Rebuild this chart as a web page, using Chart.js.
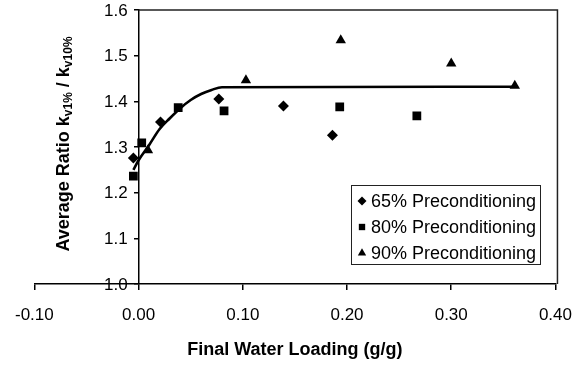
<!DOCTYPE html>
<html><head><meta charset="utf-8">
<script src="https://cdn.jsdelivr.net/npm/chart.js@4/dist/chart.umd.min.js"></script>
<style>html,body{margin:0;padding:0;background:#fff}#wrap{width:587px;height:367px;position:relative}</style>
</head><body><div id="wrap"><canvas id="c"></canvas></div>
<script>
// ---- data ----
const seriesNames = ['65% Preconditioning', '80% Preconditioning', '90% Preconditioning'];
const x65 = [-0.005, 0.021, 0.077, 0.139, 0.186];
const y65 = [1.276, 1.355, 1.405, 1.390, 1.326];
const x80 = [-0.005, 0.003, 0.038, 0.082, 0.193, 0.267];
const y80 = [1.236, 1.309, 1.386, 1.379, 1.388, 1.368];
const x90 = [0.009, 0.103, 0.194, 0.300, 0.361];
const y90 = [1.293, 1.446, 1.534, 1.483, 1.434];
const fitX = [-0.005, 0.0, 0.01, 0.02, 0.03, 0.04, 0.05, 0.06, 0.07, 0.08, 0.36];
const fitY = [1.25, 1.271, 1.304, 1.339, 1.363, 1.385, 1.403, 1.416, 1.425, 1.431, 1.432];
const xTicks = [-0.10, 0.00, 0.10, 0.20, 0.30, 0.40];
const yTicks = [1.0, 1.1, 1.2, 1.3, 1.4, 1.5, 1.6];
const xTitle = 'Final Water Loading (g/g)';
const yTitleParts = [['Average Ratio k', false], ['v1%', true], [' / k', false], ['v10%', true]];

const FONT = '"Liberation Sans", Arial, Helvetica, sans-serif';
const pts = (xs, ys) => xs.map((x, i) => ({x: x, y: ys[i]}));
const markerStyles = ['rectRot', 'rect', 'triangle'];
const markerRadius = [5.5, 6.2, 6];

const scatterSet = (i, xs, ys) => ({
  type: 'scatter', label: seriesNames[i], data: pts(xs, ys),
  pointStyle: markerStyles[i], pointRadius: markerRadius[i], pointHoverRadius: markerRadius[i],
  backgroundColor: '#000', borderColor: '#000', borderWidth: 0, showLine: false, order: 1
});

const framePlugin = {
  id: 'frame',
  beforeDatasetsDraw(chart) {
    const {ctx, scales: {x, y}} = chart;
    const x0 = x.getPixelForValue(0), x1 = x.getPixelForValue(0.4);
    const yt = y.getPixelForValue(1.6), yb = y.getPixelForValue(1.0);
    ctx.save();
    ctx.strokeStyle = '#222'; ctx.lineWidth = 1.5;
    ctx.beginPath();
    ctx.moveTo(x0, yt); ctx.lineTo(x1 + 2, yt); ctx.lineTo(x1 + 2, yb);
    ctx.stroke();
    ctx.restore();
  }
};

// y tick labels: the y axis crosses at x = 0, labels sit to its left
const yLabelPlugin = {
  id: 'ylabels',
  afterDraw(chart) {
    const {ctx, scales: {x, y}} = chart;
    const ax = x.getPixelForValue(0);
    ctx.save();
    ctx.font = '17px ' + FONT;
    ctx.fillStyle = '#000';
    ctx.textAlign = 'right'; ctx.textBaseline = 'middle';
    yTicks.forEach(v => ctx.fillText(v.toFixed(1), ax - 11, y.getPixelForValue(v) + 1));
    ctx.restore();
  }
};

const yTitlePlugin = {
  id: 'ytitle',
  afterDraw(chart) {
    const ctx = chart.ctx;
    const mainF = 'bold 18px ' + FONT, subF = 'bold 12px ' + FONT;
    ctx.save();
    let total = 0;
    yTitleParts.forEach(([t, sub]) => { ctx.font = sub ? subF : mainF; total += ctx.measureText(t).width; });
    const cx = 69, cy = 144;
    ctx.translate(cx, cy);
    ctx.rotate(-Math.PI / 2);
    ctx.fillStyle = '#000';
    ctx.textBaseline = 'alphabetic';
    ctx.textAlign = 'left';
    let pos = -total / 2;
    yTitleParts.forEach(([t, sub]) => {
      ctx.font = sub ? subF : mainF;
      ctx.fillText(t, pos, sub ? 3 : 0);
      pos += ctx.measureText(t).width;
    });
    ctx.restore();
  }
};

const legendPlugin = {
  id: 'boxLegend',
  afterDraw(chart) {
    const ctx = chart.ctx;
    const bx = 351, by = 185, bw = 189, bh = 79;
    ctx.save();
    ctx.fillStyle = '#fff';
    ctx.fillRect(bx, by, bw, bh);
    ctx.strokeStyle = '#222'; ctx.lineWidth = 1;
    ctx.strokeRect(bx + 0.5, by + 0.5, bw, bh);
    ctx.font = '18px ' + FONT;
    ctx.textBaseline = 'middle'; ctx.textAlign = 'left';
    const rows = [201, 227, 253];
    const lr = [4.5, 4.5, 4.8];
    seriesNames.forEach((name, i) => {
      ctx.fillStyle = '#000';
      Chart.helpers.drawPoint(ctx, {pointStyle: markerStyles[i], radius: lr[i], rotation: 0, borderWidth: 0}, 362, rows[i]);
      ctx.fillStyle = '#000';
      ctx.fillText(name, 371, rows[i] + 1);
    });
    ctx.restore();
  }
};

new Chart(document.getElementById('c'), {
  data: {
    datasets: [
      scatterSet(0, x65, y65),
      scatterSet(1, x80, y80),
      scatterSet(2, x90, y90),
      {
        type: 'scatter', label: 'fit', data: pts(fitX, fitY), showLine: true,
        borderColor: '#000', borderWidth: 2.6, pointRadius: 0, pointHoverRadius: 0,
        cubicInterpolationMode: 'monotone', fill: false, order: 2
      }
    ]
  },
  options: {
    responsive: true, maintainAspectRatio: false, animation: false,
    events: [],
    layout: {padding: {left: 33, right: 22, top: 10, bottom: 5}},
    plugins: {legend: {display: false}, tooltip: {enabled: false}, title: {display: false}},
    scales: {
      x: {
        type: 'linear', position: 'bottom', min: -0.1, max: 0.4,
        afterBuildTicks: s => { s.ticks = xTicks.map(v => ({value: v})); },
        afterFit: s => { s.height = 78; },
        ticks: {callback: v => v.toFixed(2), color: '#000', font: {family: FONT, size: 17}, padding: 15, maxRotation: 0, autoSkip: false},
        grid: {display: true, drawOnChartArea: false, drawTicks: true, tickLength: 6, color: '#000', lineWidth: 1.5},
        border: {display: true, color: '#000', width: 1.5},
        title: {display: true, text: xTitle, color: '#000', font: {family: FONT, size: 18, weight: 'bold'}, padding: {top: 17, bottom: 1}}
      },
      y: {
        type: 'linear', position: {x: 0}, min: 1.0, max: 1.6,
        afterBuildTicks: s => { s.ticks = yTicks.map(v => ({value: v})); },
        ticks: {display: false},
        grid: {display: true, drawOnChartArea: false, drawTicks: true, tickLength: 4, color: '#000', lineWidth: 1.5},
        border: {display: true, color: '#000', width: 1.5}
      }
    }
  },
  plugins: [framePlugin, yLabelPlugin, yTitlePlugin, legendPlugin]
});
</script>
</body></html>
